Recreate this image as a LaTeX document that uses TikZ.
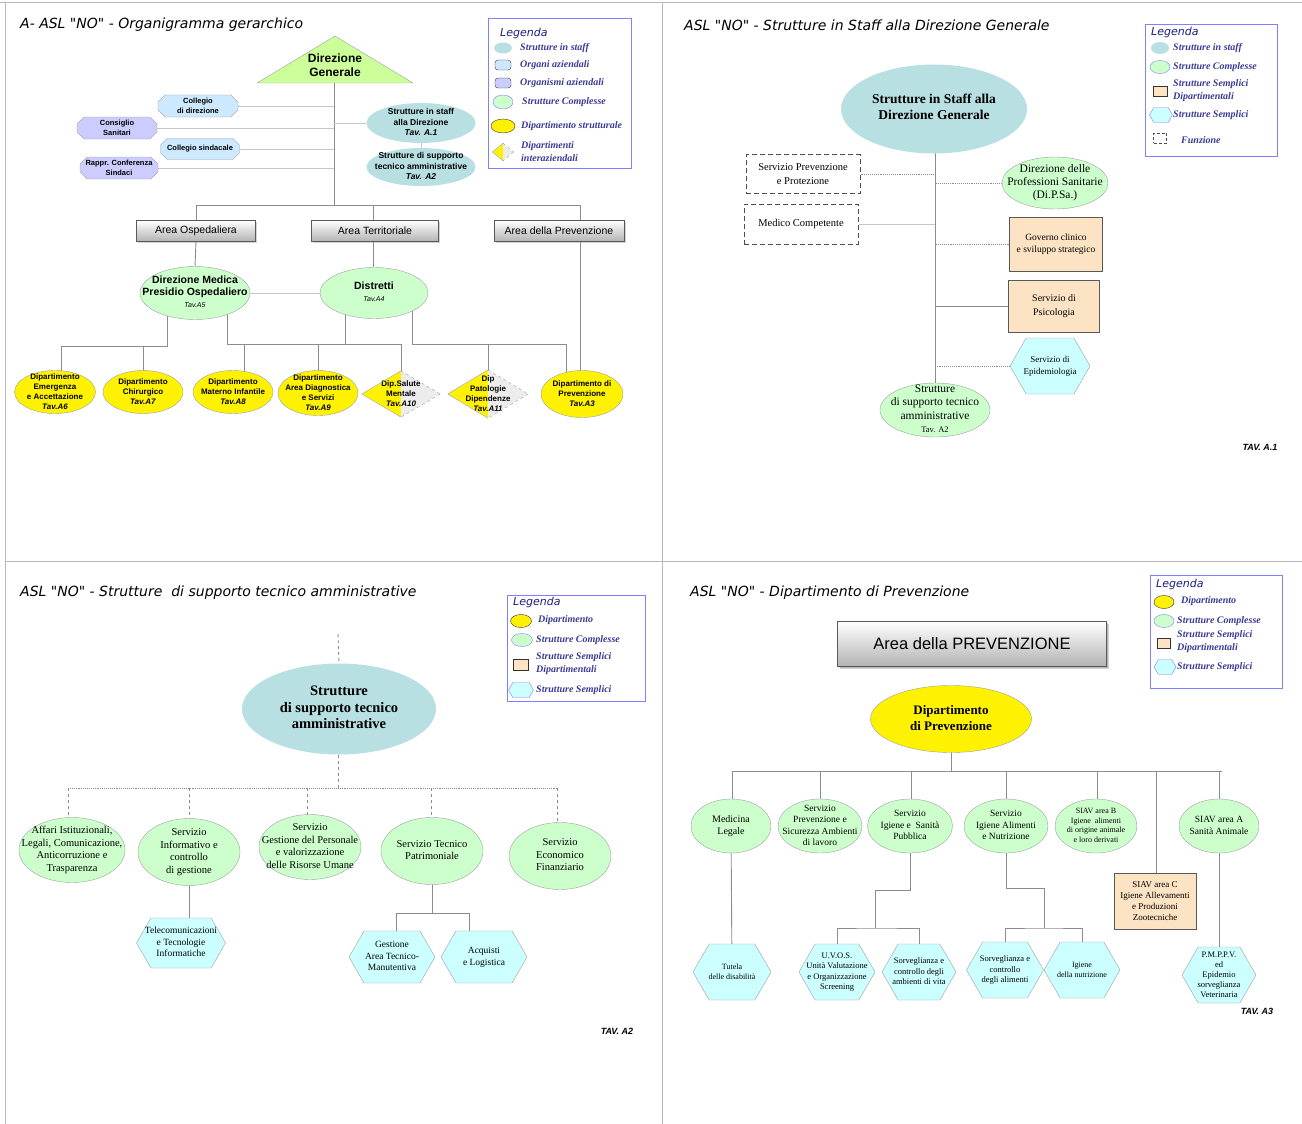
\documentclass[tikz,border=0pt]{standalone}
\usepackage{fontspec}
\setmainfont{Liberation Serif}
\setsansfont{Liberation Sans}
\newfontfamily\comicfont{DejaVu Sans}
\usetikzlibrary{shapes.geometric,shapes.misc,shapes.symbols,shadows,backgrounds}

\definecolor{linegray}{HTML}{8C8C8C}
\definecolor{staffteal}{HTML}{B8DFE2}
\definecolor{cplxgreen}{HTML}{CCFFCC}
\definecolor{trigreen}{HTML}{CCFF99}
\definecolor{orgblue}{HTML}{CCE9FF}
\definecolor{orglilac}{HTML}{CCCCFF}
\definecolor{tanbox}{HTML}{FCE3C3}
\definecolor{hexcyan}{HTML}{CCFFFF}
\definecolor{legblue}{HTML}{8080FF}
\definecolor{legtext}{HTML}{3A3A96}
\definecolor{legdark}{HTML}{1C1C80}

\newcommand\fsz[2]{\fontsize{#1}{#2}\selectfont}
\newcommand\inbox[1]{\smash{\makebox[0pt]{\raisebox{-.25em}{\begin{tabular}{@{}c@{}}#1\end{tabular}}}}}

\tikzset{
    every node/.style={inner sep=0pt},
    panel/.style={draw=gray!55, line width=0.8pt},
    ln/.style={draw=linegray, line width=0.9pt},
    lnl/.style={draw=gray!45, line width=0.8pt},
    staff/.style={ellipse, fill=staffteal},
    cplx/.style={ellipse, fill=cplxgreen, draw=gray!75},
    dept/.style={ellipse, fill=yellow, draw=gray!75, font=\sffamily\bfseries\fsz{8}{10}},
    dmd/.style={diamond, font=\sffamily\bfseries\fsz{8}{10},
        path picture={
            \fill[yellow] (path picture bounding box.north west) rectangle (path picture bounding box.south);
            \fill[gray!15] (path picture bounding box.north) rectangle (path picture bounding box.south east);},
        append after command={
            (\tikzlastnode.north) edge[gray!75] (\tikzlastnode.west)
            (\tikzlastnode.west) edge[gray!75] (\tikzlastnode.south)
            (\tikzlastnode.north) edge[gray!75, dashed] (\tikzlastnode.east)
            (\tikzlastnode.east) edge[gray!75, dashed] (\tikzlastnode.south)}},
    organo/.style={chamfered rectangle, chamfered rectangle xsep=4pt, fill=orgblue, draw=gray!75,
        font=\sffamily\bfseries\fsz{7.5}{9.5}, align=center},
    organismo/.style={organo, fill=orglilac},
    areabox/.style={rectangle, top color=white, bottom color=gray!60, draw=gray!70!black,
        drop shadow={shadow xshift=1.5pt, shadow yshift=-1.5pt, opacity=.35}, font=\sffamily\fsz{10.5}{12}},
    semdip/.style={rectangle, fill=tanbox, draw=gray!70!black, align=center},
    semplice/.style={signal, signal to=east and west, signal pointer angle=120, fill=hexcyan, draw=gray!75},
    funz/.style={rectangle, draw=gray!60!black, dash pattern=on 5pt off 3pt, line width=1pt, align=center},
    legbox/.style={draw=legblue, line width=0.9pt},
    legtxt/.style={anchor=west, text=legtext, font=\bfseries\itshape\fsz{10}{13}, align=left},
    legtitle/.style={anchor=west, text=legdark, font=\comicfont\itshape\fsz{11}{13}},
    ptitle/.style={anchor=west, font=\comicfont\itshape\fsz{14}{16}},
    tav/.style={font=\sffamily\bfseries\itshape\fsz{9}{10}},
}

\begin{document}
\begin{tikzpicture}[x=1pt,y=-1pt]
    \useasboundingbox (0,0) rectangle (1302,1124);
    \draw[panel] (0,2) -- (1302,2);
    \draw[panel] (5,2) -- (5,1124);
    \draw[panel] (662,2) -- (662,1124);
    \draw[panel] (5,561) -- (1302,561);

    \node[ptitle] (t1) at (20,25) {A- ASL \textquotedbl NO\textquotedbl{} - Organigramma gerarchico};
    \fill[trigreen, draw=gray!75] (335,36) -- (413,83) -- (257,83) -- cycle;
    \node[font=\sffamily\bfseries\fsz{12}{14}, align=center] (dg) at (335,65) {Direzione\\Generale};
    \coordinate (dgb) at (334,83);
    \coordinate (hub) at (334,205);
    \node[organo, minimum width=80, minimum height=22] (cdir) at (198,106) {Collegio\\di direzione};
    \node[organismo, minimum width=80, minimum height=22] (csan) at (117,128) {Consiglio\\Sanitari};
    \node[organo, minimum width=79, minimum height=21] (csin) at (200,149) {Collegio sindacale};
    \node[organismo, minimum width=78, minimum height=22] (rcs) at (119,168) {Rappr. Conferenza\\Sindaci};
    \node[staff, minimum width=109, minimum height=40, font=\sffamily\bfseries\fsz{8.5}{10.3}] (st1) at (421,123) {\inbox{Strutture in staff\\alla Direzione\\\textit{Tav. A.1}}};
    \node[staff, minimum width=109, minimum height=38, font=\sffamily\bfseries\fsz{8.5}{10.3}] (st2) at (421,167) {\inbox{Strutture di supporto\\tecnico amministrative\\\textit{Tav. A2}}};
    \node[areabox, minimum width=119, minimum height=21] (aosp) at (196,231) {Area Ospedaliera};
    \node[areabox, minimum width=127, minimum height=21] (ater) at (375,231) {Area Territoriale};
    \node[areabox, minimum width=130, minimum height=21] (aprev) at (559,231) {Area della Prevenzione};
    \node[cplx, minimum width=110, minimum height=53, font=\sffamily\bfseries\fsz{10.5}{12}] (dmp) at (195,293) {\inbox{Direzione Medica\\Presidio Ospedaliero\\{\fsz{7}{9}\mdseries\itshape Tav.A5}}};
    \node[cplx, minimum width=108, minimum height=51, font=\sffamily\bfseries\fsz{10.5}{12}] (dist) at (374,293) {\inbox{Distretti\\{\fsz{7}{9}\mdseries\itshape Tav.A4}}};
    \node[dept, minimum width=81, minimum height=43] (dea) at (55,392) {\inbox{Dipartimento\\Emergenza\\e Accettazione\\\textit{Tav.A6}}};
    \node[dept, minimum width=80, minimum height=43] (dch) at (143,392) {\inbox{Dipartimento\\Chirurgico\\\textit{Tav.A7}}};
    \node[dept, minimum width=80, minimum height=43] (dmi) at (233,392) {\inbox{Dipartimento\\Materno Infantile\\\textit{Tav.A8}}};
    \node[dept, minimum width=80, minimum height=45] (dads) at (318,393) {\inbox{Dipartimento\\Area Diagnostica\\e Servizi\\\textit{Tav.A9}}};
    \node[dmd, minimum width=78, minimum height=46] (dsm) at (401,394) {\inbox{Dip.Salute\\Mentale\\\textit{Tav.A10}}};
    \node[dmd, minimum width=80, minimum height=48] (dpd) at (488,394) {\inbox{Dip\\Patologie\\Dipendenze\\\textit{Tav.A11}}};
    \node[dept, minimum width=82, minimum height=47] (dprev) at (582,394) {\inbox{Dipartimento di\\Prevenzione\\\textit{Tav.A3}}};
    \coordinate (pv) at (580,205);
    \coordinate (ra) at (0,346);
    \coordinate (rb) at (0,344);

    \draw[legbox] (488,18) rectangle (631,168);
    \node[legtitle] (lg1) at (500,33) {Legenda};
    \node[staff, minimum width=18, minimum height=11] (lg1a) at (503,48) {};
    \node[legtxt] (lg1at) at (520,48) {Strutture in staff};
    \node[rectangle, rounded corners=3pt, fill=orgblue, draw=gray!40!black, minimum width=16, minimum height=10] (lg1b) at (503,65) {};
    \node[legtxt] (lg1bt) at (520,65) {Organi aziendali};
    \node[rectangle, rounded corners=3pt, fill=orglilac, draw=gray!40!black, minimum width=16, minimum height=10] (lg1c) at (503,83) {};
    \node[legtxt] (lg1ct) at (520,83) {Organismi aziendali};
    \node[cplx, draw=legblue, minimum width=20, minimum height=14] (lg1d) at (503,102) {};
    \node[legtxt] (lg1dt) at (522,102) {Strutture Complesse};
    \node[dept, draw=gray!40!black, minimum width=24, minimum height=14] (lg1e) at (503,126) {};
    \node[legtxt] (lg1et) at (521,126) {Dipartimento strutturale};
    \node[dmd, minimum width=21, minimum height=17] (lg1f) at (503,152) {};
    \node[legtxt] (lg1ft) at (521,152) {Dipartimenti\\interaziendali};

    \node[ptitle] (t2) at (684,25) {ASL \textquotedbl NO\textquotedbl{} - Strutture in Staff alla Direzione Generale};
    \node[staff, minimum width=186, minimum height=89, font=\bfseries\fsz{13.5}{16}] (sdg) at (934,109) {\inbox{Strutture in Staff alla\\Direzione Generale}};
    \node[funz, minimum width=114, minimum height=39, font=\fsz{10.5}{14}] (spp) at (803,174) {Servizio Prevenzione\\e Protezione};
    \node[funz, minimum width=114, minimum height=40, font=\fsz{10.5}{12}] (mc) at (801,224) {Medico Competente};
    \node[cplx, minimum width=106, minimum height=52, font=\fsz{11.5}{13.3}] (dps) at (1055,183) {\inbox{Direzione delle\\Professioni Sanitarie\\(Di.P.Sa.)}};
    \node[semdip, minimum width=93, minimum height=54, font=\fsz{9.5}{12.5}] (gcs) at (1056,244) {Governo clinico\\e sviluppo strategico};
    \node[semdip, minimum width=91, minimum height=52, font=\fsz{10}{14}] (spsi) at (1054,306) {Servizio di\\Psicologia};
    \node[semplice, minimum width=80, minimum height=56, font=\fsz{9}{12}] (sepi) at (1050,366) {\inbox{Servizio di\\Epidemiologia}};
    \node[cplx, minimum width=110, minimum height=54, font=\fsz{11.5}{13.5}] (sta2) at (935,410) {\inbox{Strutture\\di supporto tecnico\\amministrative\\{\fsz{8.5}{10}Tav. A2}}};
    \node[tav] (tav1) at (1260,447) {TAV. A.1};

    \draw[legbox] (1145,24) rectangle (1277,156);
    \node[legtitle] (lg2) at (1151,32) {Legenda};
    \node[staff, minimum width=18, minimum height=12] (lg2a) at (1160,48) {};
    \node[legtxt] (lg2at) at (1173,48) {Strutture in staff};
    \node[cplx, draw=legblue, minimum width=20, minimum height=13] (lg2b) at (1160,67) {};
    \node[legtxt] (lg2bt) at (1173,67) {Strutture Complesse};
    \node[semdip, draw=gray!40!black, minimum width=14, minimum height=10] (lg2c) at (1160,91) {};
    \node[legtxt] (lg2ct) at (1173,91) {Strutture Semplici\\Dipartimentali};
    \node[semplice, draw=legblue, minimum width=23, minimum height=15] (lg2d) at (1161,115) {};
    \node[legtxt] (lg2dt) at (1173,115) {Strutture Semplici};
    \node[funz, line width=0.8pt, dash pattern=on 3pt off 2pt, minimum width=13, minimum height=10] (lg2e) at (1160,138) {};
    \node[legtxt] (lg2et) at (1181,140) {Funzione};

    \node[ptitle] (t3) at (20,593) {ASL \textquotedbl NO\textquotedbl{} - Strutture\ \ di supporto tecnico amministrative};
    \coordinate (p3top) at (338,634);
    \node[staff, minimum width=194, minimum height=91, font=\bfseries\fsz{14.5}{16.5}] (sta) at (339,709) {\inbox{Strutture\\di supporto tecnico\\amministrative}};
    \coordinate (b3l) at (68,788);
    \coordinate (b3r) at (557,788);
    \node[cplx, minimum width=106, minimum height=65, font=\fsz{10.5}{12.5}] (aff) at (72,850) {\inbox{Affari Istituzionali,\\Legali, Comunicazione,\\Anticorruzione e\\Trasparenza}};
    \node[cplx, minimum width=102, minimum height=67, font=\fsz{10.5}{12.5}] (sinf) at (189,852) {\inbox{Servizio\\Informativo e\\controllo\\di gestione}};
    \node[cplx, minimum width=102, minimum height=65, font=\fsz{10.5}{12.5}] (sgp) at (310,847) {\inbox{Servizio\\Gestione del Personale\\e valorizzazione\\delle Risorse Umane}};
    \node[cplx, minimum width=102, minimum height=67, font=\fsz{10.5}{12.5}] (stp) at (432,851) {\inbox{Servizio Tecnico\\Patrimoniale}};
    \node[cplx, minimum width=102, minimum height=67, font=\fsz{10.5}{12.5}] (sef) at (560,856) {\inbox{Servizio\\Economico\\Finanziario}};
    \node[semplice, minimum width=89, minimum height=50, font=\fsz{9.5}{11.5}] (tti) at (181,943) {\inbox{Telecomunicazioni\\e Tecnologie\\Informatiche}};
    \node[semplice, minimum width=86, minimum height=52, font=\fsz{9.5}{11.5}] (gat) at (392,957) {\inbox{Gestione\\Area Tecnico-\\Manutentiva}};
    \node[semplice, minimum width=86, minimum height=52, font=\fsz{9.5}{11.5}] (acq) at (484,957) {\inbox{Acquisti\\e Logistica}};
    \coordinate (j3) at (432,913);
    \node[tav] (tav2) at (617,1031) {TAV. A2};

    \draw[legbox] (507,595) rectangle (645,701);
    \node[legtitle] (lg3) at (513,602) {Legenda};
    \node[dept, draw=gray!40!black, minimum width=21, minimum height=13] (lg3a) at (521,621) {};
    \node[legtxt] (lg3at) at (538,620) {Dipartimento};
    \node[cplx, draw=legblue, minimum width=21, minimum height=13] (lg3b) at (522,640) {};
    \node[legtxt] (lg3bt) at (536,640) {Strutture Complesse};
    \node[semdip, draw=gray!40!black, minimum width=15, minimum height=11] (lg3c) at (521,665) {};
    \node[legtxt] (lg3ct) at (536,664) {Strutture Semplici\\Dipartimentali};
    \node[semplice, draw=legblue, minimum width=25, minimum height=15] (lg3d) at (521,690) {};
    \node[legtxt] (lg3dt) at (536,690) {Strutture Semplici};

    \node[ptitle] (t4) at (690,593) {ASL \textquotedbl NO\textquotedbl{} - Dipartimento di Prevenzione};
    \node[areabox, minimum width=269, minimum height=45, font=\sffamily\fsz{16.5}{18},
        drop shadow={shadow xshift=2pt, shadow yshift=-2pt, opacity=.35}] (apr) at (972,644) {Area della PREVENZIONE};
    \node[ellipse, fill=yellow, draw=gray!75, minimum width=161, minimum height=67, font=\bfseries\fsz{13}{16.5}] (dpv) at (951,719) {\inbox{Dipartimento\\di Prevenzione}};
    \coordinate (b4l) at (732,771);
    \coordinate (b4r) at (1219,771);
    \node[cplx, minimum width=80, minimum height=54, font=\fsz{10}{12}] (ml) at (731,826) {\inbox{Medicina\\Legale}};
    \node[cplx, minimum width=84, minimum height=54, font=\fsz{9.5}{11.5}] (spsa) at (820,826) {\inbox{Servizio\\Prevenzione e\\Sicurezza Ambienti\\di lavoro}};
    \node[cplx, minimum width=85, minimum height=54, font=\fsz{9.5}{11.5}] (sisp) at (910,826) {\inbox{Servizio\\Igiene e\ \ Sanità\\Pubblica}};
    \node[cplx, minimum width=84, minimum height=54, font=\fsz{9.5}{11.5}] (sian) at (1006,826) {\inbox{Servizio\\Igiene Alimenti\\e Nutrizione}};
    \node[cplx, minimum width=82, minimum height=54, font=\fsz{8}{9.5}] (siavb) at (1096,826) {\inbox{SIAV area B\\Igiene\ \ alimenti\\di origine animale\\e loro derivati}};
    \node[cplx, minimum width=80, minimum height=54, font=\fsz{9.5}{11.5}] (siava) at (1219,826) {\inbox{SIAV area A\\Sanità Animale}};
    \node[semdip, minimum width=82, minimum height=56, font=\fsz{9}{11}] (siavc) at (1155,901) {SIAV area C\\Igiene Allevamenti\\e Produzioni\\Zootecniche};
    \node[semplice, minimum width=78, minimum height=56, font=\fsz{8}{10}] (tut) at (732,972) {\inbox{Tutela\\delle disabilità}};
    \node[semplice, minimum width=76, minimum height=56, font=\fsz{8.5}{10.5}] (uvos) at (837,972) {\inbox{U.V.O.S.\\Unità Valutazione\\e Organizzazione\\Screening}};
    \node[semplice, minimum width=74, minimum height=56, font=\fsz{8.5}{10.5}] (sca) at (919,972) {\inbox{Sorveglianza e\\controllo degli\\ambienti di vita}};
    \node[semplice, minimum width=77, minimum height=56, font=\fsz{8.5}{10.5}] (scal) at (1005,970) {\inbox{Sorveglianza e\\controllo\\degli alimenti}};
    \node[semplice, minimum width=76, minimum height=56, font=\fsz{8}{10}] (ign) at (1082,970) {\inbox{Igiene\\della nutrizione}};
    \node[semplice, minimum width=74, minimum height=56, font=\fsz{8.5}{10}] (pmp) at (1219,975) {\inbox{P.M.P.P.V.\\ed\\Epidemio\\sorveglianza\\Veterinaria}};
    \coordinate (j4) at (875,928);
    \coordinate (j5) at (1044,928);
    \node[tav] (tav3) at (1257,1011) {TAV. A3};

    \draw[legbox] (1150,575) rectangle (1282,688);
    \node[legtitle] (lg4) at (1156,584) {Legenda};
    \node[dept, draw=gray!40!black, minimum width=20, minimum height=13] (lg4a) at (1164,602) {};
    \node[legtxt] (lg4at) at (1181,601) {Dipartimento};
    \node[cplx, draw=legblue, minimum width=20, minimum height=13] (lg4b) at (1164,621) {};
    \node[legtxt] (lg4bt) at (1177,621) {Strutture Complesse};
    \node[semdip, draw=gray!40!black, minimum width=13, minimum height=10] (lg4c) at (1164,643) {};
    \node[legtxt] (lg4ct) at (1177,642) {Strutture Semplici\\Dipartimentali};
    \node[semplice, draw=legblue, minimum width=22, minimum height=15] (lg4d) at (1165,667) {};
    \node[legtxt] (lg4dt) at (1177,667) {Strutture Semplici};

    \begin{scope}[on background layer]
        \draw[ln] (dgb) -- (hub);
        \draw[lnl] (cdir.east) -- (cdir.east -| hub);
        \draw[lnl] (csan.east) -- (csan.east -| hub);
        \draw[lnl] (csin.east) -- (csin.east -| hub);
        \draw[lnl] (rcs.east) -- (rcs.east -| hub);
        \draw[lnl] (st1.west) -- (st1.west -| hub);
        \draw[lnl] (st1.south) -- (st2.north);
        \draw[ln] (aosp.north) |- (pv) -- (pv |- aprev.north);
        \draw[ln] ([xshift=-2pt]ater.north |- pv) -- ([xshift=-2pt]ater.north);
        \draw[ln] (aosp.south) -- (dmp.north);
        \draw[ln] ([xshift=-2pt]ater.south) -- ([xshift=-1pt]dist.north);
        \draw[lnl] (dmp.east) -- (dist.west);
        \draw[ln] (pv |- aprev.south) -- (pv |- dprev.center);
        \draw[ln] ([xshift=-28pt]dmp.center) |- ([xshift=6pt]dea.center |- ra) -- ([xshift=6pt]dea.center);
        \draw[ln] (dch.center |- ra) -- (dch.center);
        \draw[ln] ([xshift=32pt]dmp.center) |- (dsm.center |- rb) -- (dsm.center);
        \draw[ln] ([xshift=11pt]dmi.center |- rb) -- ([xshift=11pt]dmi.center);
        \draw[ln] (dads.center |- rb) -- (dads.center);
        \draw[ln] ([xshift=-29pt]dist.center) -- ([xshift=-29pt]dist.center |- rb);
        \draw[ln] ([xshift=38pt]dist.center) |- ([xshift=-16pt]dprev.center |- rb) -- ([xshift=-16pt]dprev.center);
        \draw[ln] (dpd.center |- rb) -- (dpd.center);

        \draw[ln] ([xshift=1pt]sdg.center) -- (sta2.center);
        \draw[ln, densely dotted] (spp.east) -- (spp.east -| sta2.north);
        \draw[lnl] (mc.east) -- (mc.east -| sta2.north);
        \draw[ln, densely dotted] (dps.west) -- (dps.west -| sta2.north);
        \draw[ln, densely dotted] (gcs.west) -- (gcs.west -| sta2.north);
        \draw[ln] (spsi.west) -- (spsi.west -| sta2.north);
        \draw[ln, densely dotted] (sepi.west) -- (sepi.west -| sta2.north);

        \draw[ln, dashed] (p3top) -- (sta.north);
        \draw[ln, dashed] ([xshift=-1pt]sta.south) -- ([xshift=-1pt]sta.south |- b3l);
        \draw[ln, densely dotted] (b3l) -- (b3r);
        \draw[ln, dashed] (b3l) -- (b3l |- aff.center);
        \draw[ln, dashed] (sinf.center |- b3l) -- (sinf.center);
        \draw[ln, dashed] ([xshift=-3pt]sgp.center |- b3l) -- ([xshift=-3pt]sgp.center);
        \draw[ln, dashed] ([xshift=-1pt]stp.center |- b3l) -- ([xshift=-1pt]stp.center);
        \draw[ln, dashed] (b3r) -- (b3r |- sef.center);
        \draw[ln] (sinf.center) -- (sinf.center |- tti.center);
        \draw[ln] (stp.center) -- (j3);
        \draw[ln] ([xshift=4pt]gat.center) |- ([xshift=-15pt]acq.center |- j3) -- ([xshift=-15pt]acq.center);

        \draw[ln] (dpv.center) -- (dpv.center |- b4l);
        \draw[ln] (b4l) -- ([xshift=3pt]b4r);
        \draw[ln] (b4l) -- (b4l |- ml.center);
        \draw[ln] (spsa.center |- b4l) -- (spsa.center);
        \draw[ln] ([xshift=1pt]sisp.center |- b4l) -- ([xshift=1pt]sisp.center);
        \draw[ln] (sian.center |- b4l) -- (sian.center);
        \draw[ln] ([xshift=1pt]siavb.center |- b4l) -- ([xshift=1pt]siavb.center);
        \draw[ln] ([xshift=1pt]siavc.center |- b4l) -- ([xshift=1pt]siavc.center);
        \draw[ln] (b4r) -- (b4r |- siava.center);
        \draw[ln] (ml.center) -- (tut.center);
        \draw[ln] (sisp.south) -- ++(0,37) -| (j4);
        \draw[ln] (uvos.center) |- (j4) -| (sca.center);
        \draw[ln] (sian.south) -- ++(0,35) -| (j5);
        \draw[ln] (scal.center) |- (j5) -| (ign.center);
        \draw[ln] (siava.center) -- (pmp.center);
    \end{scope}
\end{tikzpicture}
\end{document}
